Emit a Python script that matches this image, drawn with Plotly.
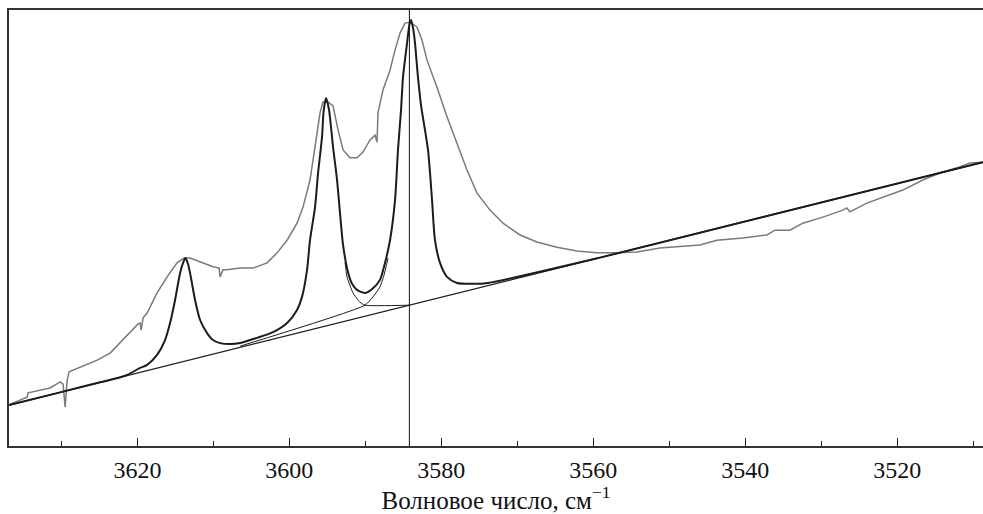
import plotly.graph_objects as go

# Wavenumber (cm^-1) and absorbance (arb. units)
spec_wn = [3636.75, 3634.51, 3634.38, 3632.80, 3631.49, 3630.17, 3629.78, 3629.51, 3629.25, 3628.99,
           3627.54, 3625.30, 3623.59, 3622.28, 3620.96, 3619.91, 3619.64, 3619.51, 3619.25, 3618.72,
           3617.41, 3616.09, 3614.78, 3613.86, 3613.07, 3611.75, 3610.04, 3609.25, 3609.12, 3608.72,
           3608.20, 3606.49, 3604.78, 3602.93, 3601.62, 3600.30, 3598.99, 3598.20, 3597.28, 3596.62,
           3595.96, 3595.57, 3594.91, 3594.25, 3593.59, 3592.93, 3592.01, 3591.09, 3590.30, 3589.38,
           3588.72, 3588.46, 3588.33, 3587.67, 3586.75, 3586.09, 3585.43, 3584.78, 3584.12, 3583.20,
           3582.54, 3581.88, 3580.57, 3579.25, 3577.93, 3576.62, 3575.30, 3573.59, 3571.88, 3569.64,
           3567.41, 3564.78, 3562.14, 3559.51, 3556.88, 3554.25, 3551.22, 3545.96, 3543.72, 3540.30,
           3537.14, 3536.09, 3534.12, 3532.41, 3529.78, 3527.14, 3526.62, 3526.22, 3523.99, 3521.88,
           3519.25, 3516.62, 3514.38, 3512.14, 3510.43, 3508.72]
spec_a = [0.096, 0.112, 0.122, 0.128, 0.133, 0.147, 0.142, 0.089, 0.151, 0.170,
          0.181, 0.197, 0.213, 0.236, 0.261, 0.280, 0.282, 0.266, 0.294, 0.305,
          0.351, 0.388, 0.420, 0.431, 0.431, 0.422, 0.411, 0.408, 0.388, 0.404,
          0.404, 0.408, 0.408, 0.420, 0.443, 0.472, 0.511, 0.548, 0.610, 0.686,
          0.764, 0.789, 0.789, 0.780, 0.725, 0.679, 0.661, 0.661, 0.674, 0.702,
          0.713, 0.697, 0.764, 0.817, 0.862, 0.908, 0.947, 0.970, 0.972, 0.961,
          0.931, 0.885, 0.823, 0.755, 0.695, 0.633, 0.580, 0.541, 0.511, 0.484,
          0.468, 0.456, 0.447, 0.443, 0.443, 0.445, 0.454, 0.461, 0.472, 0.477,
          0.484, 0.495, 0.495, 0.511, 0.525, 0.541, 0.546, 0.537, 0.557, 0.571,
          0.587, 0.610, 0.626, 0.638, 0.649, 0.651]

# Fitted envelope (sum of bands on the baseline)
fit_wn = [3636.88, 3630.17, 3624.91, 3621.62, 3619.64, 3618.72, 3617.41, 3616.36, 3615.70, 3615.04,
          3614.38, 3613.99, 3613.66, 3613.33, 3613.07, 3612.41, 3611.75, 3610.83, 3610.04, 3609.12,
          3607.80, 3606.49, 3604.25, 3602.14, 3600.30, 3598.99, 3598.33, 3597.67, 3597.28, 3596.62,
          3596.22, 3595.70, 3595.50, 3595.17, 3594.78, 3594.25, 3593.72, 3593.33, 3592.93, 3592.28,
          3591.75, 3591.09, 3590.04, 3588.99, 3588.07, 3587.41, 3586.75, 3586.09, 3585.70, 3585.30,
          3585.04, 3584.51, 3584.18, 3583.99, 3583.72, 3583.46, 3583.07, 3582.67, 3581.75, 3581.22,
          3580.83, 3580.17, 3579.25, 3577.93, 3575.83, 3573.86, 3559.12, 3508.72]
fit_a = [0.094, 0.123, 0.146, 0.161, 0.179, 0.186, 0.209, 0.243, 0.282, 0.335,
         0.397, 0.420, 0.431, 0.417, 0.397, 0.335, 0.289, 0.259, 0.243, 0.236,
         0.234, 0.236, 0.248, 0.261, 0.282, 0.312, 0.342, 0.404, 0.472, 0.548,
         0.626, 0.709, 0.766, 0.798, 0.771, 0.686, 0.610, 0.534, 0.461, 0.399,
         0.372, 0.358, 0.351, 0.362, 0.381, 0.420, 0.472, 0.564, 0.679, 0.771,
         0.846, 0.924, 0.968, 0.977, 0.959, 0.924, 0.846, 0.782, 0.679, 0.564,
         0.472, 0.420, 0.388, 0.374, 0.372, 0.374, 0.432, 0.651]

# Linear baseline
base_wn = [3636.88, 3508.72]
base_a = [0.094, 0.651]

# Individual band tails visible in the valley between the 3595 and 3584 bands
band2_wn = [3592.67, 3592.41, 3591.62, 3590.70, 3590.04, 3584.12]
band2_a = [0.422, 0.388, 0.351, 0.330, 0.323, 0.323]
band3_wn = [3606.49, 3590.04, 3588.99, 3588.07, 3587.54, 3587.01]
band3_a = [0.229, 0.323, 0.342, 0.365, 0.392, 0.431]

marker_wn = 3584.2

x_range = [3636.9, 3508.7]
y_range = [0, 1]
x_ticks = [3620, 3600, 3580, 3560, 3540, 3520]
x_title = "Волновое число, см<sup>−1</sup>"

DARK = "#1c1c1c"
GRAY = "#7a7a7a"
FONT = "'Liberation Serif', 'Times New Roman', 'DejaVu Serif', serif"

fig = go.Figure()
fig.add_trace(go.Scatter(x=spec_wn, y=spec_a, mode="lines",
                         line=dict(color=GRAY, width=1.5), hoverinfo="skip"))
fig.add_trace(go.Scatter(x=base_wn, y=base_a, mode="lines",
                         line=dict(color=DARK, width=1.3), hoverinfo="skip"))
fig.add_trace(go.Scatter(x=band2_wn, y=band2_a, mode="lines",
                         line=dict(color=DARK, width=1.0, shape="spline", smoothing=0.5), hoverinfo="skip"))
fig.add_trace(go.Scatter(x=band3_wn, y=band3_a, mode="lines",
                         line=dict(color=DARK, width=1.0, shape="spline", smoothing=0.5), hoverinfo="skip"))
fig.add_trace(go.Scatter(x=fit_wn, y=fit_a, mode="lines",
                         line=dict(color=DARK, width=2.0, shape="spline", smoothing=0.7), hoverinfo="skip"))
fig.add_trace(go.Scatter(x=[marker_wn, marker_wn], y=y_range, mode="lines",
                         line=dict(color="#111111", width=1.0), hoverinfo="skip"))

fig.update_layout(
    width=983, height=514,
    margin=dict(l=9, r=0, t=10, b=68),
    paper_bgcolor="white", plot_bgcolor="white",
    showlegend=False,
    font=dict(family=FONT, size=24, color="#111111"),
)
fig.update_xaxes(
    range=x_range, tickvals=x_ticks, ticks="inside", ticklen=8, tickwidth=1.2, tickcolor="#222222",
    showline=True, linecolor="#333333", linewidth=1.5, mirror=True,
    showgrid=False, zeroline=False,
    ticklabelstandoff=1,
    tickfont=dict(family=FONT, size=24, color="#111111"),
    minor=dict(dtick=10, tick0=3510, ticks="inside", ticklen=5, tickwidth=1.2, tickcolor="#222222", showgrid=False),
    title=dict(text=x_title, font=dict(family=FONT, size=25, color="#111111"), standoff=1),
)
fig.update_yaxes(
    range=y_range, showticklabels=False, ticks="",
    showline=True, linecolor="#333333", linewidth=1.5, mirror=False,
    showgrid=False, zeroline=False,
)

fig.write_html("out.html", config={"displayModeBar": False},
               post_script="document.body.style.margin='0';document.body.style.overflow='hidden';")
